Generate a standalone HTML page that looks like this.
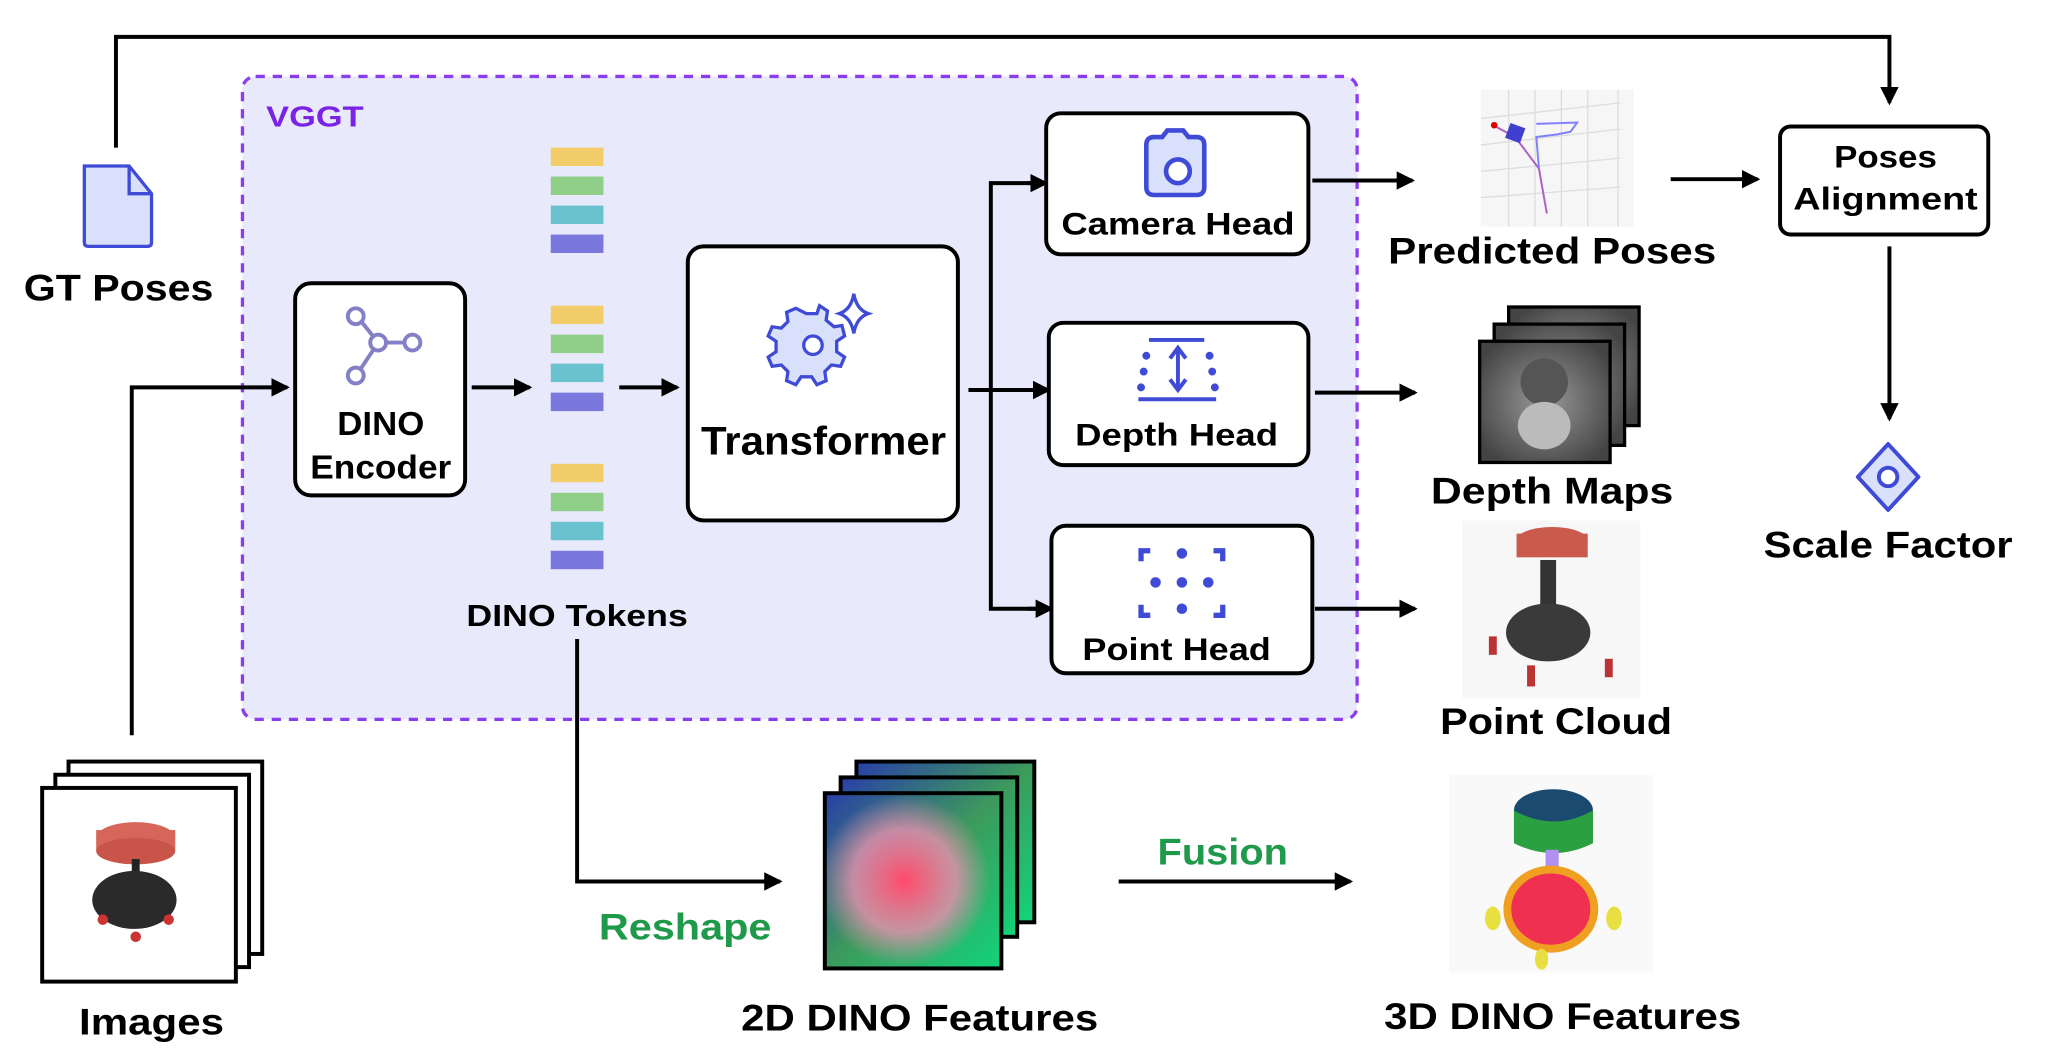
<!DOCTYPE html>
<html><head><meta charset="utf-8"><style>html,body{margin:0;padding:0;background:#fff}svg{display:block}text{font-family:"Liberation Sans",sans-serif;font-weight:bold}</style></head>
<body>
<svg width="2066" height="1060" viewBox="0 0 1568 804.5" xmlns="http://www.w3.org/2000/svg">
<defs>
<marker id="ah" markerWidth="14" markerHeight="14" refX="12" refY="7" orient="auto" markerUnits="userSpaceOnUse"><path d="M0,0 L14,7 L0,14 Z" fill="#000"/></marker>
<linearGradient id="feat" x1="0" y1="0" x2="1" y2="1"><stop offset="0" stop-color="#2a3fa8"/><stop offset="0.5" stop-color="#3c9a5c"/><stop offset="1" stop-color="#12d47a"/></linearGradient>
<radialGradient id="featc" cx="0.45" cy="0.5" r="0.5"><stop offset="0" stop-color="#ff4a6a"/><stop offset="0.6" stop-color="#e890b0" stop-opacity="0.8"/><stop offset="1" stop-color="#e890b0" stop-opacity="0"/></radialGradient>
<radialGradient id="dep" cx="0.5" cy="0.5" r="0.6"><stop offset="0" stop-color="#999"/><stop offset="1" stop-color="#444"/></radialGradient>
</defs>

<rect x="184" y="58" width="846" height="488" rx="10" fill="#e9e9fc" stroke="#8a3cf0" stroke-width="2.5" stroke-dasharray="7,6"/>
<text x="202" y="96" font-size="22" fill="#7a22e6" textLength="74" lengthAdjust="spacingAndGlyphs">VGGT</text>

<polyline points="88,112 88,28 1434,28 1434,78" fill="none" stroke="#000" stroke-width="3" marker-end="url(#ah)"/>

<path d="M64,126 L98,126 L115,147 L115,184 Q115,187 112,187 L67,187 Q64,187 64,184 Z" fill="#d8e0fb" stroke="#3f4bd6" stroke-width="2.5"/>
<path d="M98,126 L98,147 L115,147" fill="none" stroke="#3f4bd6" stroke-width="2.5"/>
<text x="90" y="228" font-size="28" text-anchor="middle" textLength="144" lengthAdjust="spacingAndGlyphs">GT Poses</text>

<rect x="52" y="578" width="147" height="146" fill="#fff" stroke="#000" stroke-width="3"/>
<rect x="42" y="588" width="147" height="146" fill="#fff" stroke="#000" stroke-width="3"/>
<rect x="32" y="598" width="147" height="147" fill="#fff" stroke="#000" stroke-width="3"/>
<ellipse cx="103" cy="636" rx="30" ry="12" fill="#d6665a"/>
<rect x="73" y="630" width="60" height="16" fill="#d6665a"/>
<ellipse cx="103" cy="646" rx="30" ry="10" fill="#c9554a"/>
<rect x="100" y="652" width="6" height="20" fill="#222"/>
<ellipse cx="102" cy="683" rx="32" ry="22" fill="#2a2a2a"/>
<circle cx="78" cy="698" r="4" fill="#c33"/><circle cx="128" cy="698" r="4" fill="#c33"/><circle cx="103" cy="711" r="4" fill="#c33"/>
<text x="115" y="785" font-size="28" text-anchor="middle" textLength="110" lengthAdjust="spacingAndGlyphs">Images</text>

<polyline points="100,558 100,294 218,294" fill="none" stroke="#000" stroke-width="3" marker-end="url(#ah)"/>

<rect x="224" y="215" width="129" height="161" rx="12" fill="#fff" stroke="#000" stroke-width="3"/>
<g stroke="#8480c8" stroke-width="3" fill="#fff">
<line x1="271" y1="240" x2="287" y2="260"/><line x1="287" y1="260" x2="313" y2="260"/><line x1="287" y1="260" x2="271" y2="284"/>
<circle cx="270" cy="240" r="6"/><circle cx="287" cy="260" r="6"/><circle cx="313" cy="260" r="6"/><circle cx="270" cy="285" r="6"/>
</g>
<text x="289" y="330" font-size="25" text-anchor="middle" textLength="66" lengthAdjust="spacingAndGlyphs">DINO</text>
<text x="289" y="363" font-size="25" text-anchor="middle" textLength="107" lengthAdjust="spacingAndGlyphs">Encoder</text>

<line x1="358" y1="294" x2="402" y2="294" stroke="#000" stroke-width="3" marker-end="url(#ah)"/>

<g>
<rect x="418" y="112" width="40" height="14" fill="#f3cd6a"/><rect x="418" y="134" width="40" height="14" fill="#8fcf88"/><rect x="418" y="156" width="40" height="14" fill="#6bc2cf"/><rect x="418" y="178" width="40" height="14" fill="#7b78dd"/>
<rect x="418" y="232" width="40" height="14" fill="#f3cd6a"/><rect x="418" y="254" width="40" height="14" fill="#8fcf88"/><rect x="418" y="276" width="40" height="14" fill="#6bc2cf"/><rect x="418" y="298" width="40" height="14" fill="#7b78dd"/>
<rect x="418" y="352" width="40" height="14" fill="#f3cd6a"/><rect x="418" y="374" width="40" height="14" fill="#8fcf88"/><rect x="418" y="396" width="40" height="14" fill="#6bc2cf"/><rect x="418" y="418" width="40" height="14" fill="#7b78dd"/>
</g>
<text x="438" y="475" font-size="23" text-anchor="middle" textLength="168" lengthAdjust="spacingAndGlyphs">DINO Tokens</text>

<line x1="470" y1="294" x2="514" y2="294" stroke="#000" stroke-width="3" marker-end="url(#ah)"/>

<rect x="522" y="187" width="205" height="208" rx="12" fill="#fff" stroke="#000" stroke-width="3"/>
<g fill="#d8e0fb" stroke="#3f4bd6" stroke-width="2.5">
<path d="M612,238 l8,0 l2,-6 l6,4 l-1,7 l6,5 l6,-1 l2,8 l-6,4 l0,8 l6,4 l-3,7 l-7,-1 l-5,5 l1,7 l-7,3 l-4,-6 l-8,0 l-4,6 l-7,-3 l1,-7 l-5,-5 l-7,1 l-3,-7 l6,-4 l0,-8 l-6,-4 l3,-7 l7,1 l5,-5 l-1,-7 l7,-3 Z"/>
<circle cx="617" cy="262" r="7" fill="#fff"/>
<path d="M648,223 q2,12 11,15 q-9,3 -11,15 q-2,-12 -11,-15 q9,-3 11,-15 Z" fill="#fff"/>
</g>
<text x="625" y="345" font-size="30" text-anchor="middle" textLength="186" lengthAdjust="spacingAndGlyphs">Transformer</text>

<line x1="735" y1="296" x2="752" y2="296" stroke="#000" stroke-width="3"/>
<polyline points="787,139 752,139 752,462 787,462" fill="none" stroke="#000" stroke-width="3"/>
<line x1="780" y1="139" x2="794" y2="139" stroke="#000" stroke-width="3" marker-end="url(#ah)"/>
<line x1="752" y1="296" x2="796" y2="296" stroke="#000" stroke-width="3" marker-end="url(#ah)"/>
<line x1="780" y1="462" x2="798" y2="462" stroke="#000" stroke-width="3" marker-end="url(#ah)"/>

<rect x="794" y="86" width="199" height="107" rx="11" fill="#fff" stroke="#000" stroke-width="3"/>
<path d="M870,110 q0,-6 6,-6 l6,0 l4,-5 l12,0 l4,5 l6,0 q6,0 6,6 l0,32 q0,6 -6,6 l-32,0 q-6,0 -6,-6 Z" fill="#d8e0fb" stroke="#3f4bd6" stroke-width="3.5"/>
<circle cx="894" cy="130" r="9" fill="#fff" stroke="#3f4bd6" stroke-width="3.5"/>
<text x="894" y="178" font-size="24" text-anchor="middle" textLength="177" lengthAdjust="spacingAndGlyphs">Camera Head</text>

<rect x="796" y="245" width="197" height="108" rx="11" fill="#fff" stroke="#000" stroke-width="3"/>
<g stroke="#3f4bd6" stroke-width="3" fill="#3f4bd6">
<line x1="872" y1="258" x2="914" y2="258"/><line x1="864" y1="303" x2="923" y2="303"/>
<line x1="894" y1="266" x2="894" y2="294"/>
<path d="M888,272 L894,264 L900,272" fill="none"/><path d="M888,288 L894,296 L900,288" fill="none"/>
<circle cx="870" cy="270" r="1.5"/><circle cx="868" cy="282" r="1.5"/><circle cx="866" cy="294" r="1.5"/>
<circle cx="918" cy="270" r="1.5"/><circle cx="920" cy="282" r="1.5"/><circle cx="922" cy="294" r="1.5"/>
</g>
<text x="893" y="338" font-size="24" text-anchor="middle" textLength="154" lengthAdjust="spacingAndGlyphs">Depth Head</text>

<rect x="798" y="399" width="198" height="112" rx="11" fill="#fff" stroke="#000" stroke-width="3"/>
<g stroke="#3f4bd6" stroke-width="4" fill="none">
<path d="M866,426 L866,418 L873,418"/><path d="M921,418 L928,418 L928,426"/>
<path d="M866,459 L866,467 L873,467"/><path d="M921,467 L928,467 L928,459"/>
</g>
<g fill="#3f4bd6"><circle cx="897" cy="420" r="4"/><circle cx="877" cy="442" r="4"/><circle cx="897" cy="442" r="4"/><circle cx="917" cy="442" r="4"/><circle cx="897" cy="462" r="4"/></g>
<text x="893" y="501" font-size="24" text-anchor="middle" textLength="143" lengthAdjust="spacingAndGlyphs">Point Head</text>

<line x1="996" y1="137" x2="1072" y2="137" stroke="#000" stroke-width="3" marker-end="url(#ah)"/>
<line x1="998" y1="298" x2="1074" y2="298" stroke="#000" stroke-width="3" marker-end="url(#ah)"/>
<line x1="998" y1="462" x2="1074" y2="462" stroke="#000" stroke-width="3" marker-end="url(#ah)"/>

<rect x="1124" y="68" width="116" height="104" fill="#f6f6f6"/>
<g stroke="#ddd" stroke-width="1">
<line x1="1124" y1="90" x2="1230" y2="78"/><line x1="1124" y1="110" x2="1230" y2="98"/><line x1="1124" y1="130" x2="1230" y2="120"/><line x1="1124" y1="150" x2="1230" y2="142"/>
<line x1="1145" y1="68" x2="1145" y2="172"/><line x1="1165" y1="68" x2="1165" y2="172"/><line x1="1185" y1="68" x2="1185" y2="172"/><line x1="1205" y1="68" x2="1205" y2="172"/><line x1="1228" y1="68" x2="1228" y2="172"/>
</g>
<polyline points="1135,96 1150,104 1168,128 1174,162" fill="none" stroke="#b060c0" stroke-width="1.5"/>
<polyline points="1168,128 1166,104 1182,102 1192,100 1197,93 1166,94" fill="none" stroke="#8080ff" stroke-width="1.5"/>
<rect x="1144" y="95" width="12" height="12" fill="#4040d0" transform="rotate(20 1150 101)"/>
<circle cx="1134" cy="95" r="2.5" fill="#d00"/>
<text x="1178" y="200" font-size="28" text-anchor="middle" textLength="249" lengthAdjust="spacingAndGlyphs">Predicted Poses</text>

<line x1="1268" y1="136" x2="1334" y2="136" stroke="#000" stroke-width="3" marker-end="url(#ah)"/>

<rect x="1351" y="96" width="158" height="82" rx="8" fill="#fff" stroke="#000" stroke-width="3"/>
<text x="1431" y="127" font-size="24" text-anchor="middle" textLength="78" lengthAdjust="spacingAndGlyphs">Poses</text>
<text x="1431" y="159" font-size="24" text-anchor="middle" textLength="140" lengthAdjust="spacingAndGlyphs">Alignment</text>

<line x1="1434" y1="187" x2="1434" y2="318" stroke="#000" stroke-width="3" marker-end="url(#ah)"/>

<path d="M1433,337 L1456,362 L1433,387 L1410,362 Z" fill="#d8e0fb" stroke="#3f4bd6" stroke-width="3" stroke-linejoin="round"/>
<circle cx="1433" cy="362" r="7" fill="#fff" stroke="#3f4bd6" stroke-width="3"/>
<text x="1433" y="423" font-size="28" text-anchor="middle" textLength="189" lengthAdjust="spacingAndGlyphs">Scale Factor</text>

<rect x="1145" y="233" width="99" height="90" fill="url(#dep)" stroke="#000" stroke-width="2.5"/>
<rect x="1134" y="246" width="99" height="92" fill="url(#dep)" stroke="#000" stroke-width="2.5"/>
<rect x="1123" y="259" width="99" height="92" fill="url(#dep)" stroke="#000" stroke-width="2.5"/>
<circle cx="1172" cy="290" r="18" fill="#555"/>
<ellipse cx="1172" cy="323" rx="20" ry="18" fill="#bbb"/>
<text x="1178" y="382" font-size="28" text-anchor="middle" textLength="184" lengthAdjust="spacingAndGlyphs">Depth Maps</text>

<rect x="1110" y="395" width="135" height="135" fill="#f7f7f7"/>
<ellipse cx="1178" cy="410" rx="27" ry="10" fill="#c95a4c"/>
<rect x="1151" y="405" width="54" height="18" fill="#c95a4c"/>
<rect x="1169" y="425" width="12" height="40" fill="#333"/>
<ellipse cx="1175" cy="480" rx="32" ry="22" fill="#3a3a3a"/>
<rect x="1130" y="483" width="6" height="14" fill="#b33"/><rect x="1218" y="500" width="6" height="14" fill="#b33"/><rect x="1159" y="505" width="6" height="16" fill="#b33"/>
<text x="1181" y="557" font-size="28" text-anchor="middle" textLength="176" lengthAdjust="spacingAndGlyphs">Point Cloud</text>

<polyline points="438,485 438,669 592,669" fill="none" stroke="#000" stroke-width="3" marker-end="url(#ah)"/>
<text x="520" y="713" font-size="28" text-anchor="middle" fill="#1f9a4a" textLength="131" lengthAdjust="spacingAndGlyphs">Reshape</text>

<rect x="650" y="578" width="135" height="122" fill="url(#feat)" stroke="#000" stroke-width="3"/>
<rect x="638" y="590" width="134" height="121" fill="url(#feat)" stroke="#000" stroke-width="3"/>
<rect x="626" y="602" width="134" height="133" fill="url(#feat)" stroke="#000" stroke-width="3"/>
<rect x="627.5" y="603.5" width="131" height="130" fill="url(#featc)"/>
<text x="698" y="782" font-size="28" text-anchor="middle" textLength="271" lengthAdjust="spacingAndGlyphs">2D DINO Features</text>

<text x="928" y="656" font-size="28" text-anchor="middle" fill="#1f9a4a" textLength="99" lengthAdjust="spacingAndGlyphs">Fusion</text>
<line x1="849" y1="669" x2="1025" y2="669" stroke="#000" stroke-width="3" marker-end="url(#ah)"/>

<rect x="1100" y="588" width="155" height="150" fill="#f9f9f9"/>
<ellipse cx="1179" cy="615" rx="30" ry="16" fill="#1a4a70"/>
<path d="M1149,615 L1149,640 Q1179,655 1209,640 L1209,615 Q1179,632 1149,615 Z" fill="#2aa040"/>
<rect x="1173" y="645" width="10" height="40" fill="#b090f0"/>
<ellipse cx="1177" cy="690" rx="33" ry="30" fill="#f03050"/>
<ellipse cx="1177" cy="690" rx="33" ry="30" fill="none" stroke="#f0a020" stroke-width="6"/>
<ellipse cx="1133" cy="697" rx="6" ry="9" fill="#e8e040"/><ellipse cx="1225" cy="697" rx="6" ry="9" fill="#e8e040"/><ellipse cx="1170" cy="728" rx="5" ry="8" fill="#e8e040"/>
<text x="1186" y="781" font-size="28" text-anchor="middle" textLength="271" lengthAdjust="spacingAndGlyphs">3D DINO Features</text>
</svg>
</body></html>
